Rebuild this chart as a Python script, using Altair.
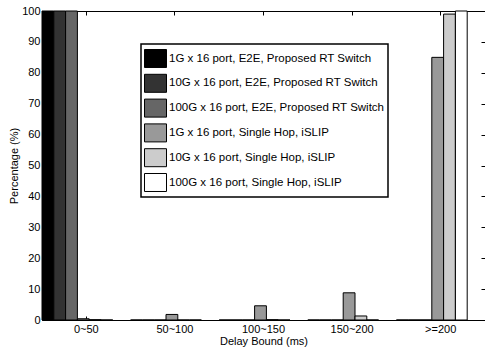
import altair as alt
import pandas as pd

categories = ["0~50", "50~100", "100~150", "150~200", ">=200"]
series = [
    "1G x 16 port, E2E, Proposed RT Switch",
    "10G x 16 port, E2E, Proposed RT Switch",
    "100G x 16 port, E2E, Proposed RT Switch",
    "1G x 16 port, Single Hop, iSLIP",
    "10G x 16 port, Single Hop, iSLIP",
    "100G x 16 port, Single Hop, iSLIP",
]
colors = ["#000000", "#333333", "#666666", "#999999", "#cccccc", "#ffffff"]

e2e_1g = [100, 0, 0, 0, 0]
e2e_10g = [100, 0, 0, 0, 0]
e2e_100g = [100, 0, 0, 0, 0]
islip_1g = [0.4, 1.8, 4.6, 8.8, 85]
islip_10g = [0.1, 0, 0.1, 1.3, 99]
islip_100g = [0, 0, 0, 0, 100]
values = [e2e_1g, e2e_10g, e2e_100g, islip_1g, islip_10g, islip_100g]
y_ticks = list(range(0, 101, 10))

rows = []
for s, vals in zip(series, values):
    for c, v in zip(categories, vals):
        rows.append({"cat": c, "series": s, "value": v})
df = pd.DataFrame(rows)

FONT = "Liberation Sans"
xscale = alt.Scale(domain=categories, paddingInner=0, paddingOuter=0)
yscale = alt.Scale(domain=[0, 100], nice=False)

bars = alt.Chart(df).mark_bar(stroke="black", strokeWidth=1, opacity=1).encode(
    x=alt.X("cat:N", sort=categories, scale=xscale,
            axis=alt.Axis(title="Delay Bound (ms)", orient="bottom", offset=-4, tickSize=4,
                          domain=False, labelAngle=0, labelPadding=3, titlePadding=1)),
    xOffset=alt.XOffset("series:N", sort=series,
                        scale=alt.Scale(domain=series, range=[0, 70.8], paddingInner=0, paddingOuter=0)),
    y=alt.Y("value:Q", scale=yscale,
            axis=alt.Axis(title="Percentage (%)", values=y_ticks, offset=-4, tickSize=4,
                          domain=False, grid=False, labelPadding=2, titlePadding=2)),
    color=alt.Color("series:N", sort=series,
                    scale=alt.Scale(domain=series, range=colors),
                    legend=alt.Legend(title=None, orient="none", legendX=99, legendY=33,
                                      symbolType="M-1,-0.818H1V0.818H-1Z", symbolSize=484,
                                      symbolStrokeColor="black", symbolStrokeWidth=1,
                                      symbolOpacity=1,
                                      labelFontSize=11.5, labelFont=FONT, labelColor="black",
                                      strokeColor="black", fillColor="white",
                                      padding=3, rowPadding=1.8, labelOffset=2, labelLimit=400)),
)

frame_axes = alt.Chart(df).mark_bar(opacity=0).encode(
    x=alt.X("cat:N", sort=categories, scale=xscale,
            axis=alt.Axis(title=None, orient="top", labels=False, offset=-4, tickSize=4, domain=False)),
    y=alt.Y("value:Q", scale=yscale,
            axis=alt.Axis(title=None, orient="right", labels=False, values=y_ticks, offset=-4,
                          tickSize=4, domain=False, grid=False)),
)

chart = alt.layer(bars, frame_axes).resolve_axis(x="independent", y="independent").properties(
    width=443, height=309,
    autosize=alt.AutoSizeParams(type="none"),
    padding={"left": 42, "top": 11, "right": 0, "bottom": 34},
    background="white",
).configure_view(stroke="black", strokeWidth=1).configure_axis(
    labelFont=FONT, labelFontSize=11, labelColor="black", tickColor="black", tickWidth=1,
    titleFont=FONT, titleFontSize=11, titleFontWeight="normal", titleColor="black",
).configure_legend(strokeWidth=1.5)

chart.save("out.html", embed_options={"renderer": "svg", "actions": False})
